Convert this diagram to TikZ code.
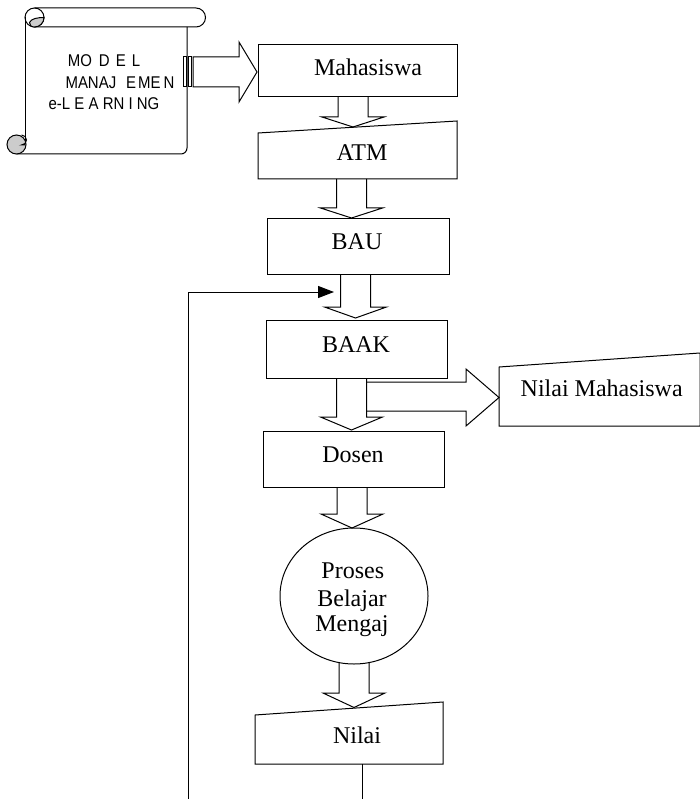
\documentclass[tikz,border=0pt]{standalone}
\usepackage{fontspec}
\setmainfont{Liberation Serif}
\newfontfamily\scrollfont[FakeStretch=0.88]{Liberation Sans}
\usetikzlibrary{arrows.meta,shapes.geometric,calc}
\newcommand\blkdown[4]{\filldraw[blk] ({#1-15},#2) -- ({#1-15},#3) -- ({#1-31},#3) -- (#1,#4) -- ({#1+31},#3) -- ({#1+15},#3) -- ({#1+15},#2);}
\begin{document}
\begin{tikzpicture}[x=1pt,y=-1pt,line width=1pt,
  boxn/.style={draw,rectangle,inner sep=0pt,line width=1pt},
  boxtext/.style={font=\fontsize{24}{28}\selectfont,inner sep=0pt,anchor=base},
  scrolltext/.style={font=\scrollfont\fontsize{17}{20}\selectfont,inner sep=0pt,anchor=base},
  blk/.style={fill=white,draw=black,line join=miter},
  curl/.style={fill=black!20,draw=black}]
\useasboundingbox (0,0) rectangle (699,799);

% ---------- scroll ----------
\draw (34.5,8) -- (196,8) arc[start angle=90,end angle=-90,radius=9.5pt] -- (34.5,27);
\draw (25,17.5) -- (25,145);
\draw (187,27) -- (187,148) arc[start angle=0,end angle=-90,radius=6pt] -- (16.5,154);
\draw (34.5,17.5) circle[radius=9.5pt];
\filldraw[curl] (29.5,22.5) .. controls (31,18.5) and (38,17.5) .. (44,17.5)
   arc[start angle=0,end angle=-90,radius=9.5pt] .. controls (31,27) and (29.5,25) .. (29.5,22.5) -- cycle;
\filldraw[curl] (16.5,144.5) circle[radius=9.5pt];
\draw (21.5,135) arc[start angle=90,end angle=-90,radius=5pt] -- (25,145);
\node[scrolltext] (sc1) at (104,66.7) {MO\hspace{7pt}D\hspace{6pt}E\hspace{6pt}L};
\node[scrolltext] (sc2) at (120,89) {MANAJ\hspace{10pt}E\hspace{2pt}ME\hspace{3pt}N};
\node[scrolltext] (sc3) at (104,110) {e-L\hspace{4.2pt}E\hspace{4.2pt}A\hspace{4.2pt}RN\hspace{4.2pt}I\hspace{4.2pt}NG};

% ---------- striped arrow scroll -> Mahasiswa ----------
\draw (183.5,57) rectangle (186,87);
\draw (188.5,57) rectangle (191,87);
\filldraw[blk] (193,57) -- (239,57) -- (239,42) -- (257,72) -- (239,102) -- (239,87) -- (193,87) -- cycle;

% ---------- down block arrows ----------
\blkdown{353}{97}{117}{127}
\blkdown{351.5}{179}{208}{218}
\blkdown{355.5}{274}{307}{318}
\filldraw[blk] (366,382) -- (466,382) -- (466,369) -- (499,397.5) -- (466,426) -- (466,411) -- (366,411);
\blkdown{351.5}{378}{417}{430}
\blkdown{352}{487}{514}{528}
\blkdown{354}{663}{693}{707.5}

% ---------- boxes ----------
\node[boxn,minimum width=199pt,minimum height=52pt] (mhs) at (357.5,71) {};
\node[boxtext] (mhsT) at (368,76) {Mahasiswa};

\draw (258,133) -- (457,121) -- (457,179) -- (258,179) -- cycle;
\node[boxtext] (atmT) at (362,161) {ATM};

\node[boxn,minimum width=182pt,minimum height=55pt] (bau) at (358,246.5) {};
\node[boxtext] (bauT) at (357,250) {BAU};

\node[boxn,minimum width=181pt,minimum height=58pt] (baak) at (356.5,349) {};
\node[boxtext] (baakT) at (356,352) {BAAK};

\draw (499,367) -- (700,353) -- (700,426) -- (499,426) -- cycle;
\node[boxtext] (nmT) at (601.7,396) {Nilai Mahasiswa};

\node[boxn,minimum width=181pt,minimum height=56pt] (dosen) at (353.5,459) {};
\node[boxtext] (dosenT) at (353,462) {Dosen};

\node[draw,ellipse,minimum width=148pt,minimum height=136pt,inner sep=0pt] (pbm) at (354,596) {};
\node[boxtext] (pbm1) at (352.8,578) {Proses};
\node[boxtext] (pbm2) at (352,606) {Belajar};
\node[boxtext] (pbm3) at (352,631.7) {Mengaj};

\draw (255,715) -- (443,702) -- (443,764) -- (255,764) -- cycle;
\coordinate (nilaiB) at (362,764);
\node[boxtext] (nilaiT) at (357,743) {Nilai};

% ---------- feedback lines ----------
\coordinate (fbB) at (188,800);
\coordinate (fbT) at (188,292);
\coordinate (fbE) at (334,292);
\draw[-{Triangle[length=16pt,width=12pt]}] (fbB) -- (fbT) -- (fbE);
\coordinate (nilaiX) at (362,800);
\draw (nilaiB) -- (nilaiX);
\end{tikzpicture}
\end{document}
